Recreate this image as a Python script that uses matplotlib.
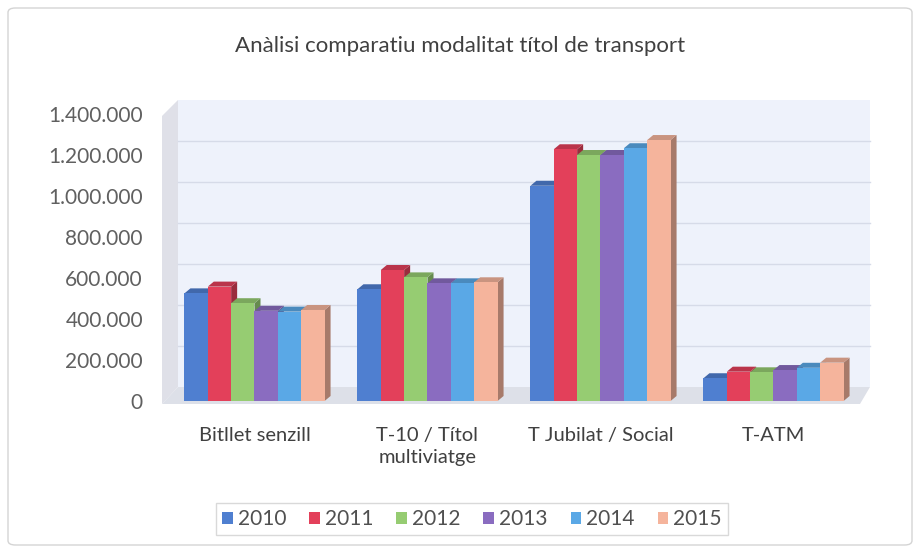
import matplotlib
matplotlib.use("Agg")
import matplotlib.pyplot as plt
import numpy as np
from matplotlib.patches import Polygon, FancyBboxPatch, Patch
from matplotlib.transforms import ScaledTranslation

plt.rcParams['font.family'] = ['Lato', 'DejaVu Sans']

categories = ["Bitllet senzill", "T-10 / Títol\nmultiviatge", "T Jubilat / Social", "T-ATM"]
years = ["2010", "2011", "2012", "2013", "2014", "2015"]
v2010 = [525000, 545000, 1050000, 111000]
v2011 = [558000, 639000, 1228000, 143000]
v2012 = [477000, 603000, 1200000, 140000]
v2013 = [440000, 574000, 1200000, 151000]
v2014 = [436000, 574000, 1233000, 162000]
v2015 = [444000, 579000, 1273000, 187000]
series = [v2010, v2011, v2012, v2013, v2014, v2015]
colors = ["#4f7fd0", "#e3405a", "#96cc72", "#8a6cc0", "#5aa8e6", "#f5b49c"]
yticks = [0, 200000, 400000, 600000, 800000, 1000000, 1200000, 1400000]

W, H = 920, 555
fig = plt.figure(figsize=(W / 100, H / 100), dpi=100)
fig.patch.set_facecolor("white")

def P(x, y):
    return (x / W, 1 - y / H)

# outer border
fig.patches.append(FancyBboxPatch(P(8, 545), (904) / W, (537) / H,
                                  boxstyle="round,pad=0,rounding_size=0.008",
                                  transform=fig.transFigure, facecolor="none",
                                  edgecolor="#d4d4d4", lw=1, zorder=-1))

ax_l, ax_r, ax_t, ax_b = 168, 860, 114, 401
ax = fig.add_axes([ax_l / W, 1 - ax_b / H, (ax_r - ax_l) / W, (ax_b - ax_t) / H])
ax.set_facecolor("none")
ax.set_xlim(-0.5, 3.5)
ax.set_ylim(0, 1400000)
for s in ax.spines.values():
    s.set_visible(False)

DX, DY = 10, 14  # wall depth in px
# back wall
back = Polygon([P(ax_l + DX, ax_b - DY), P(ax_r + DX, ax_b - DY), P(ax_r + DX, ax_t - DY),
                P(ax_l + DX, ax_t - DY)], closed=True, transform=fig.transFigure,
               facecolor="#eef2fb", edgecolor="none", zorder=0.5, clip_on=False)
ax.add_patch(back)
# left wall
left = Polygon([P(ax_l - 6, ax_b + 3), P(ax_l + DX, ax_b - DY), P(ax_l + DX, ax_t - DY),
                P(ax_l - 6, ax_t + 2)], closed=True, transform=fig.transFigure,
               facecolor="#dfe0e8", edgecolor="none", zorder=0.6, clip_on=False)
ax.add_patch(left)
# floor
floor = Polygon([P(ax_l - 6, ax_b + 3), P(ax_r, ax_b + 3), P(ax_r + DX, ax_b - DY),
                 P(ax_l + DX, ax_b - DY)], closed=True, transform=fig.transFigure,
                facecolor="#dde0e8", edgecolor="none", zorder=0.7, clip_on=False)
ax.add_patch(floor)

# gridlines on back wall
gtrans = ax.get_yaxis_transform() + ScaledTranslation(DX / 100, DY / 100, fig.dpi_scale_trans)
for v in yticks[1:-1]:
    ax.plot([0, 1], [v, v], transform=gtrans, color="#d6dbe8", lw=1.0, zorder=0.8,
            clip_on=False)

# bars with fake 3D
w = 0.135
x = np.arange(len(categories))
ddx = 6 / ((ax_r - ax_l) / 4.0)
ddy = 5 * 1400000 / (ax_b - ax_t)

def shade(c, f):
    r, g, b = matplotlib.colors.to_rgb(c)
    return (r * f, g * f, b * f)

for i, (vals, c) in enumerate(zip(series, colors)):
    xs = x + (i - 2.5) * w
    z = 3 + i
    ax.bar(xs, vals, width=w, color=c, edgecolor="none", zorder=z + 0.5)
    for xc, v in zip(xs, vals):
        x0, x1 = xc - w / 2, xc + w / 2
        ax.add_patch(Polygon([(x0, v), (x1, v), (x1 + ddx, v + ddy), (x0 + ddx, v + ddy)],
                             closed=True, facecolor=shade(c, 0.82), edgecolor="none",
                             zorder=z + 0.4))
        ax.add_patch(Polygon([(x1, 0), (x1, v), (x1 + ddx, v + ddy), (x1 + ddx, ddy)],
                             closed=True, facecolor=shade(c, 0.68), edgecolor="none",
                             zorder=z + 0.3))

ax.set_yticks(yticks)
ax.set_yticklabels([f"{v:,}".replace(",", ".") for v in yticks], fontsize=15,
                   color="#606060")
ax.set_xticks(x)
ax.set_xticklabels(categories, fontsize=14.5, color="#404040", linespacing=1.3)
ax.tick_params(axis="y", length=0, pad=18)
ax.tick_params(axis="x", length=0, pad=19)

fig.text(0.5, 1 - 46 / H, "Anàlisi comparatiu modalitat títol de transport",
         ha="center", va="center", fontsize=16, color="#404040")

handles = [Patch(facecolor=c, edgecolor="none") for c in colors]
leg = fig.legend(handles, years, loc="center", bbox_to_anchor=(472 / W, 1 - 519 / H),
                 ncol=6, frameon=True, fancybox=False, handlelength=0.5,
                 handleheight=0.5, handletextpad=0.25, columnspacing=1.1,
                 borderpad=0.3, prop={"size": 15})
leg.get_frame().set_edgecolor("#d0d0d0")
leg.get_frame().set_linewidth(1)
for t in leg.get_texts():
    t.set_color("#505050")

fig.savefig("out.png", dpi=100)
